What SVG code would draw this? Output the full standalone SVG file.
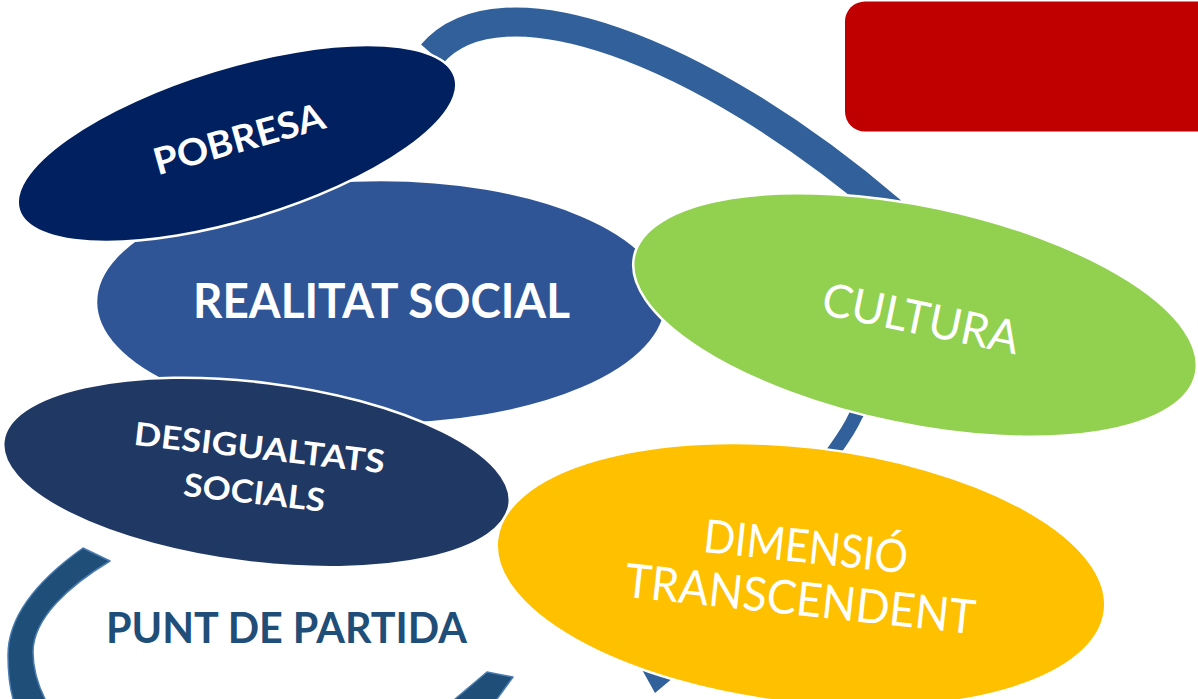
<svg xmlns="http://www.w3.org/2000/svg" width="1198" height="699" viewBox="0 0 1198 699">
<defs>
<style>
.ell{stroke:#ffffff;stroke-width:2.5}
.t{font-family:Lato,"Open Sans","Liberation Sans",sans-serif;fill:#ffffff;text-anchor:middle}
.b{font-weight:700}
.arc{fill:none;stroke:#31609a;stroke-linecap:butt}
.ring{fill:#1f4e79;stroke:#4a7cb0;stroke-width:1.5;stroke-linejoin:round}
</style>
</defs>
<rect width="1198" height="699" fill="#ffffff"/>
<g id="connectors">
<path class="arc" stroke-width="29" d="M432,54 C500,-25 700,48 890,210 L905,227"/>
<path class="arc" stroke-width="14" d="M895,220 C940,275 885,360 855,417 C843,445 760,550 690,620"/>
<polygon fill="#31609a" points="630,648 705,651 655,693"/>
<path class="ring" d="M83,548 C45,575 8,612 8,655 C8,672 10,688 13,699 L13,712 L45,712 L45,699 C38,685 33,668 33,652 C33,618 70,585 110,561 Z"/>
<path class="ring" d="M487,672 L513,677 L497,699 L497,712 L455,712 L455,699 Z"/>
</g>
<g id="realitat-social">
<ellipse class="ell" cx="381" cy="302" rx="285" ry="122" fill="#2f5597"/>
<text class="t b" x="381.5" y="318" font-size="48" textLength="377" lengthAdjust="spacingAndGlyphs">REALITAT SOCIAL</text>
</g>
<g id="pobresa">
<ellipse class="ell" cx="237" cy="143.5" rx="228" ry="76" fill="#002060" transform="rotate(-16.9 237 143.5)"/>
<text class="t b" font-size="37" textLength="176" lengthAdjust="spacingAndGlyphs" transform="translate(239,139) rotate(-15.6)" x="0" y="13">POBRESA</text>
</g>
<g id="desigualtats-socials">
<ellipse class="ell" cx="256.5" cy="472.5" rx="255" ry="90" fill="#203864" transform="rotate(7.1 256.5 472.5)"/>
<g transform="translate(257,470) rotate(6.5)">
<text class="t b" font-size="32" x="0" y="-11" textLength="252" lengthAdjust="spacingAndGlyphs">DESIGUALTATS</text>
<text class="t b" font-size="32" x="0" y="34" textLength="142" lengthAdjust="spacingAndGlyphs">SOCIALS</text>
</g>
</g>
<g id="cultura">
<ellipse class="ell" cx="915" cy="315" rx="287" ry="109" fill="#92d050" transform="rotate(11.8 915 315)"/>
<text class="t" font-size="46" textLength="200" lengthAdjust="spacingAndGlyphs" transform="translate(921,318) rotate(11.7)" x="0" y="16.5">CULTURA</text>
</g>
<g id="dimensio-transcendent">
<ellipse class="ell" cx="801" cy="575" rx="306" ry="128" fill="#ffc000" transform="rotate(6.7 801 575)"/>
<g transform="translate(803,572.5) rotate(6.1)">
<text class="t" font-size="46" x="0" y="-10" textLength="205" lengthAdjust="spacingAndGlyphs">DIMENSIÓ</text>
<text class="t" font-size="47" x="0" y="43" textLength="352" lengthAdjust="spacingAndGlyphs">TRANSCENDENT</text>
</g>
</g>
<g id="red-box">
<rect x="845" y="1.5" width="380" height="130" rx="20" fill="#c00000"/>
</g>
<g id="punt-de-partida">
<text class="t b" x="286.5" y="643" font-size="42" style="fill:#1f4e79" textLength="361" lengthAdjust="spacingAndGlyphs">PUNT DE PARTIDA</text>
</g>
</svg>
